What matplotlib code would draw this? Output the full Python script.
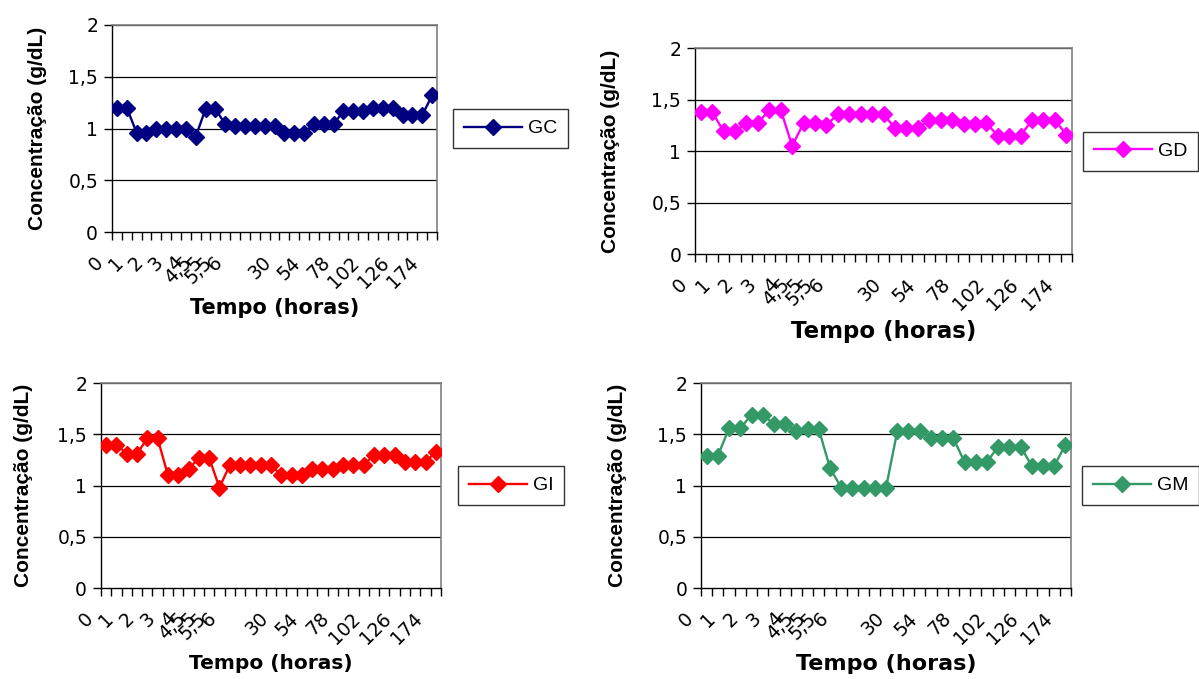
import matplotlib
matplotlib.use("Agg")
import matplotlib.pyplot as plt
import matplotlib.transforms as mtransforms

# hours sampled (one label per category, blank where the sheet left it empty)
horas = ["0", "", "1", "", "2", "", "3", "", "4", "4,5", "5", "5,5", "6",
         "", "", "", "", "30", "", "", "54", "", "", "78", "", "", "102",
         "", "", "126", "", "", "174"]

gc = [1.20, 1.20, 0.96, 0.96, 1.00, 1.00, 1.00, 1.00, 0.92, 1.19, 1.19,
      1.04, 1.02, 1.02, 1.02, 1.02, 1.02, 0.96, 0.96, 0.96, 1.04, 1.04,
      1.04, 1.17, 1.17, 1.17, 1.20, 1.20, 1.20, 1.13, 1.13, 1.13, 1.32]
gd = [1.38, 1.38, 1.19, 1.19, 1.27, 1.27, 1.40, 1.40, 1.05, 1.27, 1.27,
      1.25, 1.36, 1.36, 1.36, 1.36, 1.36, 1.22, 1.22, 1.22, 1.30, 1.30,
      1.30, 1.26, 1.26, 1.27, 1.15, 1.15, 1.15, 1.30, 1.30, 1.30, 1.16]
gi = [1.40, 1.40, 1.31, 1.31, 1.46, 1.46, 1.10, 1.10, 1.16, 1.27, 1.27,
      0.98, 1.20, 1.20, 1.20, 1.20, 1.20, 1.10, 1.10, 1.10, 1.16, 1.16,
      1.16, 1.20, 1.20, 1.20, 1.30, 1.30, 1.30, 1.23, 1.23, 1.23, 1.33]
gm = [1.29, 1.29, 1.56, 1.56, 1.69, 1.69, 1.60, 1.60, 1.53, 1.55, 1.55,
      1.17, 0.98, 0.98, 0.98, 0.98, 0.98, 1.53, 1.53, 1.53, 1.46, 1.46,
      1.46, 1.23, 1.23, 1.23, 1.38, 1.38, 1.38, 1.19, 1.19, 1.19, 1.40]

yticks = [0, 0.5, 1, 1.5, 2]
ylabels = ["0", "0,5", "1", "1,5", "2"]

# name, values, colour, axes rect, legend x, label size
panels = [
    ("GC", gc, "#000080", [0.0934, 0.6583, 0.2711, 0.3049], 1.05, 15),
    ("GD", gd, "#FF00FF", [0.5797, 0.6259, 0.3144, 0.3034], 1.03, 16.5),
    ("GI", gi, "#FF0000", [0.0842, 0.1340, 0.2836, 0.3019], 1.05, 14.5),
    ("GM", gm, "#339966", [0.5847, 0.1340, 0.3086, 0.3019], 1.03, 16),
]

fig = plt.figure(figsize=(11.99, 6.79), dpi=100)

for name, vals, cor, rect, legx, xlsize in panels:
    ax = fig.add_axes(rect)
    x = list(range(len(vals)))
    ax.plot(x, vals, color=cor, lw=1.7, marker="D", markersize=8.5,
            markeredgecolor=cor, label=name, zorder=3)

    ax.set_xlim(-0.5, len(vals) - 0.5)
    ax.set_ylim(0, 2)
    ax.set_yticks(yticks)
    ax.set_yticklabels(ylabels, fontsize=13.5, family="DejaVu Sans")
    for yv in yticks[1:]:
        ax.axhline(yv, color="black", lw=0.9, zorder=1)

    # tick marks between categories, labels placed under each category
    ax.set_xticks([i - 0.5 for i in range(len(vals) + 1)])
    ax.set_xticklabels([])
    tr = mtransforms.offset_copy(ax.get_xaxis_transform(), fig=fig,
                                 x=-23, y=-21, units="dots")
    for i, lab in enumerate(horas):
        if lab:
            ax.text(i, 0, lab, transform=tr, rotation=45, rotation_mode="anchor",
                    ha="right", va="top", fontsize=13.5, family="DejaVu Sans")

    ax.tick_params(axis="both", direction="out", length=6, width=1, color="black")
    ax.tick_params(axis="y", pad=4)
    for s in ("left", "bottom"):
        ax.spines[s].set_color("black")
        ax.spines[s].set_linewidth(1)
    for s in ("top", "right"):
        ax.spines[s].set_color("#808080")
        ax.spines[s].set_linewidth(1.2)

    ax.set_ylabel("Concentração (g/dL)", fontsize=15, fontweight="bold",
                  family="Liberation Sans")
    ax.yaxis.set_label_coords(-0.2, 0.5)
    ax.set_xlabel("Tempo (horas)", fontsize=xlsize, fontweight="bold",
                  family="DejaVu Sans", va="top")
    ax.xaxis.set_label_coords(0.5, -0.32)

    leg = ax.legend(loc="center left", bbox_to_anchor=(legx, 0.5), fontsize=14,
                    frameon=True, fancybox=False, handlelength=3.0,
                    borderpad=0.55, handletextpad=0.3, borderaxespad=0)
    leg.get_frame().set_edgecolor("black")
    leg.get_frame().set_linewidth(1)
    for t in leg.get_texts():
        t.set_family("Liberation Sans")

fig.savefig("out.png", dpi=100)
